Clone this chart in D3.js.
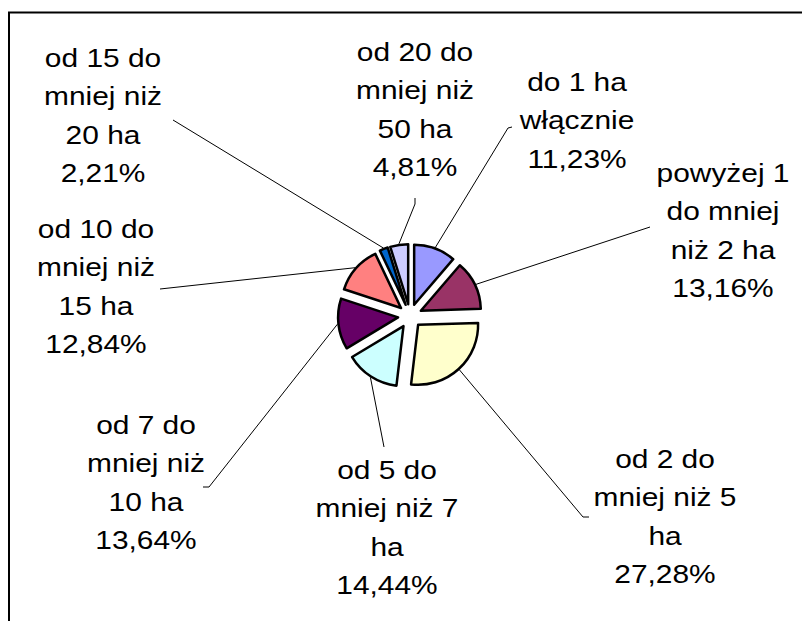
<!DOCTYPE html>
<html>
<head>
<meta charset="utf-8">
<script src="https://cdn.jsdelivr.net/npm/d3@7"></script>
<style>
  body { margin: 0; background: #fff; }
  text { font-family: "Liberation Sans", Arial, sans-serif; font-size: 26px; fill: #000; }
</style>
</head>
<body>
<svg id="chart" width="802" height="621"></svg>
<script>
const categories = [
  ["do 1 ha", "włącznie"],
  ["powyżej 1", "do mniej", "niż 2 ha"],
  ["od 2 do", "mniej niż 5", "ha"],
  ["od 5 do", "mniej niż 7", "ha"],
  ["od 7 do", "mniej niż", "10 ha"],
  ["od 10 do", "mniej niż", "15 ha"],
  ["od 15 do", "mniej niż", "20 ha"],
  ["od 20 do", "mniej niż", "50 ha"]
];
const shares = [11.23, 13.16, 27.28, 14.44, 13.64, 12.84, 2.21, 4.81];
const colors = ["#9999FF", "#993366", "#FFFFCC", "#CCFFFF", "#660066", "#FF8080", "#0066CC", "#CCCCFF"];

// label layout: centre x + first baseline, and the label end of each leader line
const labelPos = [[577, 91], [723, 182], [665, 468], [387, 479], [146, 434], [96, 238], [103, 67], [415, 61]];
const leaderEnds = [
  [[512, 127], [508, 128]],
  [[650, 227]],
  [[589, 517], [583, 517]],
  [[384, 447]],
  [[203, 487], [209, 487]],
  [[160, 289]],
  [[173, 120]],
  [[415, 198], [415, 204]]
];

const svg = d3.select('#chart');
const cx = 410, cy = 316, radius = 60, explode = 12, lineH = 38.5;
const pct = d3.formatLocale({ decimal: ",", thousands: " ", grouping: [3], currency: ["", ""] }).format(".2f");

// chart frame (runs off the right and bottom edge)
svg.append('rect').attr('x', 9).attr('y', 12.5).attr('width', 900).attr('height', 700)
  .attr('fill', 'none').attr('stroke', '#000').attr('stroke-width', 2);

const pie = d3.pie().sort(null).value(d => d);
const arcs = pie(shares);
const arc = d3.arc().innerRadius(0).outerRadius(radius);
const mid = a => (a.startAngle + a.endAngle) / 2;

const g = svg.append('g').attr('transform', `translate(${cx},${cy})`);

g.selectAll('path.slice').data(arcs).join('path')
  .attr('class', 'slice')
  .attr('transform', a => `translate(${explode * Math.sin(mid(a))},${-explode * Math.cos(mid(a))})`)
  .attr('d', arc)
  .attr('fill', (a, i) => colors[i])
  .attr('stroke', '#000')
  .attr('stroke-width', 2.5)
  .attr('stroke-linejoin', 'round');

// leader lines
const line = d3.line();
svg.selectAll('path.leader').data(arcs).join('path')
  .attr('class', 'leader')
  .attr('fill', 'none')
  .attr('stroke', '#000')
  .attr('stroke-width', 1)
  .attr('d', (a, i) => {
    const R = radius + explode + 1;
    const p = [cx + R * Math.sin(mid(a)), cy - R * Math.cos(mid(a))];
    return line(leaderEnds[i].concat([p]));
  });

// labels
const labels = svg.selectAll('g.label').data(arcs).join('g')
  .attr('class', 'label')
  .attr('transform', (a, i) => `translate(${labelPos[i][0]},${labelPos[i][1]}) scale(1.15,1)`);

labels.append('text')
  .attr('text-anchor', 'middle')
  .selectAll('tspan')
  .data((a, i) => categories[i].concat([pct(shares[i]) + "%"]))
  .join('tspan')
  .attr('x', 0)
  .attr('y', (d, j) => j * lineH)
  .text(d => d);
</script>
</body>
</html>
